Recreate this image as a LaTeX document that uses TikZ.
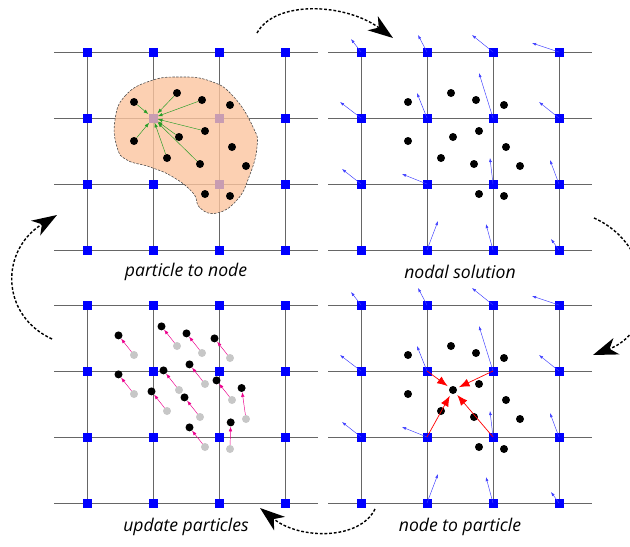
\documentclass[tikz,border=0pt]{standalone}
\usepackage{fontspec}
\newfontfamily\lblfont{Open Sans}
\usepackage{tikz}
\usetikzlibrary{arrows.meta, calc, backgrounds}

\begin{document}
\begin{tikzpicture}[x=0.03cm, y=-0.03cm,
  gridline/.style={draw=black!60, line width=0.6pt},
  nd/.style={fill=blue, minimum size=0.27cm, inner sep=0pt},
  pt/.style={circle, fill=black, minimum size=0.24cm, inner sep=0pt},
  oldpt/.style={pt, fill=black!22},
  blob/.style={fill={rgb,255:red,251;green,196;blue,159}, fill opacity=0.8,
               draw=black!70, dash pattern=on 2pt off 1.2pt, line width=0.5pt},
  vel/.style={-{Latex[length=3.5pt,width=2.5pt]}, draw=blue!75!white, line width=0.4pt},
  p2n/.style={-{Latex[length=4pt,width=3pt]}, draw=green!55!black!85!white, line width=0.4pt},
  n2p/.style={-{Latex[length=9pt,width=7pt]}, draw=red, line width=0.6pt, shorten >=2pt},
  move/.style={-{Latex[length=4pt,width=3pt]}, draw=magenta, line width=0.4pt},
  cyc/.style={-{Stealth[length=7.5mm,width=5.2mm,inset=2.2mm]}, line width=1.2pt,
              dash pattern=on 2.4pt off 1.6pt},
  lbl/.style={font=\lblfont\itshape\fontsize{15}{18}\selectfont},
]
  \useasboundingbox (0,0) rectangle (630,546);

  % grid nodes of the four panels
  \foreach \pn/\ox/\oy in {a/87/52, b/361/52, c/87/305, d/361/305} {
    \foreach \i in {0,...,3}
      \foreach \j in {0,...,3}
        \node[nd] (\pn-\i-\j) at (\ox+66*\i, \oy+66*\j) {};
    \begin{scope}[on background layer]
      \foreach \i in {0,...,3}
        \draw[gridline] (\pn-\i-0.center) -- (\pn-\i-3.center);
      \foreach \j in {0,...,3}
        \draw[gridline] ($(\pn-0-\j)+(-33,0)$) -- ($(\pn-3-\j)+(33,0)$);
    \end{scope}
  }

  % support of the kernel
  \draw[blob] plot[smooth cycle, tension=0.8] coordinates {
    (115,120) (125,96) (150,81) (180,77) (210,81) (233,96) (253,127)
    (257,147) (249,177) (237,200) (217,213) (200,208) (193,193)
    (173,177) (150,167) (127,160) (117,147)};

  % particles
  \foreach \px/\py/\k/\dx/\dy in {47/50/1/-15.5/-19.6, 90/41/2/-15.5/-19.6,
      115/48/3/-15.5/-19.6, 143/53/4/-15.5/-19.6, 47/89/5/-15.5/-19.6,
      92/85/6/-15.5/-19.6, 118/79/7/-15.5/-19.6, 145/95/8/-15.5/-19.6,
      80/106/9/-15.5/-19.6, 113/112/10/-15.5/-19.6, 159/114/11/-4.4/-31,
      118/142/12/-15.5/-19.6, 143/144/13/0.7/-26.6} {
    \foreach \pn/\ox/\oy in {a/87/52, b/361/52, d/361/305}
      \node[pt] (\pn-p\k) at (\ox+\px, \oy+\py) {};
    \node[oldpt] (c-q\k) at (87+\px, 305+\py) {};
    \node[pt] (c-p\k) at (87+\px+\dx, 305+\py+\dy) {};
    \draw[move] (c-q\k) -- (c-p\k);
  }

  % particle to node
  \foreach \k in {1,2,3,5,6,7,9,10}
    \draw[p2n] (a-p\k) -- (a-1-1);

  % nodal velocities
  \foreach \pn in {b,d}
    \foreach \i/\j/\dx/\dy in {0/0/-10/-13, 1/0/-9/-17, 2/0/-21/-17, 3/0/-27/-9,
        0/1/-21/-16, 1/1/-10/-25, 2/1/-14/-45, 3/1/-20/-16,
        0/2/-19/-15, 1/2/-25/-10, 2/2/-3/-26, 3/2/-9/-24,
        1/3/11/-29, 2/3/-7/-26, 3/3/-8/-11}
      \draw[vel] (\pn-\i-\j.center) -- ++(\dx,\dy) coordinate (\pn-v-\i-\j);

  % node to particle
  \foreach \i/\j in {1/1, 2/1, 1/2, 2/2}
    \draw[n2p] (d-\i-\j.center) -- (d-p6);

  % labels
  \node[lbl] (lab-a) at (186,272) {particle to node};
  \node[lbl] (lab-b) at (460,272) {nodal solution};
  \node[lbl] (lab-c) at (186,527) {update particles};
  \node[lbl] (lab-d) at (460,527) {node to particle};

  % cycle
  \coordinate (s1) at (257,33);  \coordinate (e1) at (393,38);
  \coordinate (s2) at (594,218); \coordinate (e2) at (593,355);
  \coordinate (s3) at (375,509); \coordinate (e3) at (260,508);
  \coordinate (s4) at (52,339);  \coordinate (e4) at (57,215);
  \draw[cyc] (s1) .. controls (275,0) and (345,3) .. (e1);
  \draw[cyc] (s2) .. controls (655,245) and (660,330) .. (e2);
  \draw[cyc] (s3) .. controls (360,540) and (300,540) .. (e3);
  \draw[cyc] (s4) .. controls (0,315) and (0,250) .. (e4);
\end{tikzpicture}
\end{document}
